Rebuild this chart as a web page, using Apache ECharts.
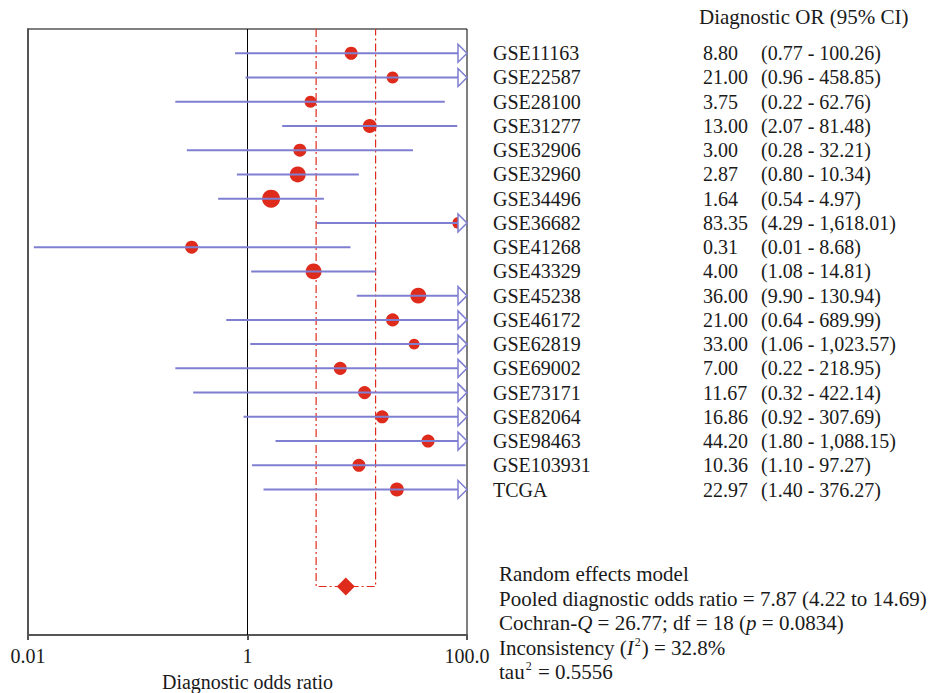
<!DOCTYPE html>
<html>
<head>
<meta charset="utf-8">
<script src="https://cdn.jsdelivr.net/npm/echarts@6/dist/echarts.min.js"></script>
<style>
  html, body { margin: 0; padding: 0; background: #fff; }
  #chart { width: 929px; height: 693px; }
</style>
</head>
<body>
<div id="chart"></div>
<script>
// #region Data
const studies = ["GSE11163", "GSE22587", "GSE28100", "GSE31277", "GSE32906", "GSE32960", "GSE34496",
    "GSE36682", "GSE41268", "GSE43329", "GSE45238", "GSE46172", "GSE62819", "GSE69002",
    "GSE73171", "GSE82064", "GSE98463", "GSE103931", "TCGA"];
const orValues = [8.80, 21.00, 3.75, 13.00, 3.00, 2.87, 1.64, 83.35, 0.31, 4.00, 36.00, 21.00,
    33.00, 7.00, 11.67, 16.86, 44.20, 10.36, 22.97];
const ciLow = [0.77, 0.96, 0.22, 2.07, 0.28, 0.80, 0.54, 4.29, 0.0113, 1.08, 9.90, 0.64,
    1.06, 0.22, 0.32, 0.92, 1.80, 1.10, 1.40];
const ciHigh = [100.26, 458.85, 62.76, 81.48, 32.21, 10.34, 4.97, 1618.01, 8.68, 14.81, 130.94, 689.99,
    1023.57, 218.95, 422.14, 307.69, 1088.15, 97.27, 376.27];
// relative study weights (%)
const weights = [4.3, 3.6, 3.6, 4.9, 4.3, 6.4, 8.2, 3.6, 4.3, 6.4, 6.4, 4.3,
    3.0, 4.3, 4.3, 4.3, 4.3, 4.3, 4.9];
const pooled = { or: 7.87, low: 4.22, high: 14.69 };
const xTicks = [0.01, 1, 100];
const xTickLabels = ["0.01", "1", "100.0"];
// #endregion

const FONT = "Liberation Serif";
const FS = 20;
const TXT = "#1a1a1a";
const RED = "#de2b1c";
const BLUE = "#7f7fd2";
const X_MAX = 100;
const POOLED_ROW = 22;

const fmt = v => v.toLocaleString("en-US", { minimumFractionDigits: 2, maximumFractionDigits: 2 });

const rows = studies.map((s, i) => [i, ciLow[i], ciHigh[i], orValues[i]]);

const chart = echarts.init(document.getElementById("chart"), null, { renderer: "svg" });

chart.setOption({
    animation: false,
    grid: {
        left: 28, right: 462, top: 29, bottom: 58, show: true, borderColor: "#000", borderWidth: 1,
        containLabel: false, outerBoundsMode: "none"
    },
    xAxis: {
        type: "log", logBase: 10, min: 0.01, max: 100, interval: 2,
        axisLine: { show: true, onZero: false, lineStyle: { color: "#555", width: 2 } },
        axisTick: { show: true, length: 5, lineStyle: { color: "#555", width: 2 } },
        splitLine: { show: false },
        axisLabel: {
            fontFamily: FONT, fontSize: FS, color: TXT, margin: 11,
            formatter: v => {
                const k = xTicks.findIndex(t => Math.abs(Math.log10(t) - Math.log10(v)) < 1e-6);
                return k >= 0 ? xTickLabels[k] : "";
            }
        },
        name: "Diagnostic odds ratio", nameLocation: "middle", nameGap: 37, nameMoveOverlap: false,
        nameTextStyle: { fontFamily: FONT, fontSize: FS, color: TXT }
    },
    yAxis: {
        type: "value", inverse: true, min: -1, max: 24,
        axisLine: { show: true, onZero: false, lineStyle: { color: "#555", width: 2 } },
        axisTick: { show: false }, axisLabel: { show: false }, splitLine: { show: false }
    },
    series: [
        // no-effect line at OR = 1
        {
            type: "line", z: 1, symbol: "none", silent: true,
            data: [[1, -1], [1, 24]],
            lineStyle: { color: "#000", width: 1 }
        },
        // pooled CI box (dash-dot)
        {
            type: "line", z: 1, symbol: "none", silent: true,
            data: [[pooled.low, -1], [pooled.low, POOLED_ROW], [pooled.high, POOLED_ROW], [pooled.high, -1]],
            lineStyle: { color: RED, width: 1.2, type: [8, 3, 2, 3] }
        },
        // study point estimates
        {
            type: "scatter", z: 2, symbol: "circle",
            data: orValues.map((v, i) => [v, i, weights[i]]),
            symbolSize: d => 6.3 * Math.sqrt(d[2]),
            itemStyle: { color: RED, opacity: 1 }
        },
        // pooled diamond
        {
            type: "scatter", z: 2, symbol: "diamond", symbolSize: [18, 18],
            data: [[pooled.or, POOLED_ROW]],
            itemStyle: { color: RED, opacity: 1 }
        },
        // CI lines with arrows where they run past the axis
        {
            type: "custom", z: 3, clip: false,
            data: rows,
            encode: { x: [1, 2], y: 0 },
            renderItem: (params, api) => {
                const y = api.value(0);
                const lo = api.value(1), hi = api.value(2);
                const p1 = api.coord([lo, y]);
                const p2 = api.coord([Math.min(hi, X_MAX), y]);
                const children = [];
                if (hi > X_MAX) {
                    const tip = p2[0];
                    const base = tip - 9;
                    children.push({
                        type: "line", shape: { x1: p1[0], y1: p1[1], x2: base, y2: p1[1] },
                        style: { stroke: BLUE, lineWidth: 2 }
                    });
                    children.push({
                        type: "polygon",
                        shape: { points: [[base, p1[1] - 9], [tip, p1[1]], [base, p1[1] + 9]] },
                        style: { stroke: BLUE, lineWidth: 1.5, fill: "#fff" }
                    });
                } else {
                    children.push({
                        type: "line", shape: { x1: p1[0], y1: p1[1], x2: p2[0], y2: p2[1] },
                        style: { stroke: BLUE, lineWidth: 2 }
                    });
                }
                return { type: "group", children };
            }
        },
        // study table text on the right
        {
            type: "custom", z: 4, clip: false, silent: true,
            data: rows,
            encode: { x: 3, y: 0 },
            renderItem: (params, api) => {
                const i = api.value(0);
                const y = api.coord([1, i])[1];
                const base = { fontFamily: FONT, fontSize: FS, fill: TXT, verticalAlign: "middle", align: "left" };
                return {
                    type: "group",
                    children: [
                        { type: "text", x: 493, y: y, style: Object.assign({ text: studies[i] }, base) },
                        { type: "text", x: 703, y: y, style: Object.assign({ text: orValues[i].toFixed(2) }, base) },
                        { type: "text", x: 761, y: y, style: Object.assign({ text: "(" + fmt(ciLow[i]) + " - " + fmt(ciHigh[i]) + ")" }, base) }
                    ]
                };
            }
        }
    ],
    graphic: [
        {
            type: "text", left: 699, top: 6,
            style: { text: "Diagnostic OR (95% CI)", fontFamily: FONT, fontSize: 21, fill: TXT }
        },
        {
            type: "text", left: 499, top: 562,
            style: {
                text: [
                    "Random effects model",
                    "Pooled diagnostic odds ratio = " + pooled.or.toFixed(2) + " (" + pooled.low.toFixed(2) + " to " + pooled.high.toFixed(2) + ")",
                    "Cochran-{i|Q} = 26.77; df = 18 ({i|p} = 0.0834)",
                    "Inconsistency ({i|I}{sup|2}) = 32.8%",
                    "tau{sup|2} = 0.5556"
                ].join("\n"),
                fontFamily: FONT, fontSize: 21, fill: TXT, lineHeight: 24.5,
                rich: {
                    i: { fontFamily: FONT, fontSize: 21, fontStyle: "italic", fill: TXT, lineHeight: 24.5 },
                    sup: { fontFamily: FONT, fontSize: 12, fill: TXT, verticalAlign: "top", lineHeight: 24.5, padding: [0, 1, 10, 1] }
                }
            }
        }
    ]
});
</script>
</body>
</html>
